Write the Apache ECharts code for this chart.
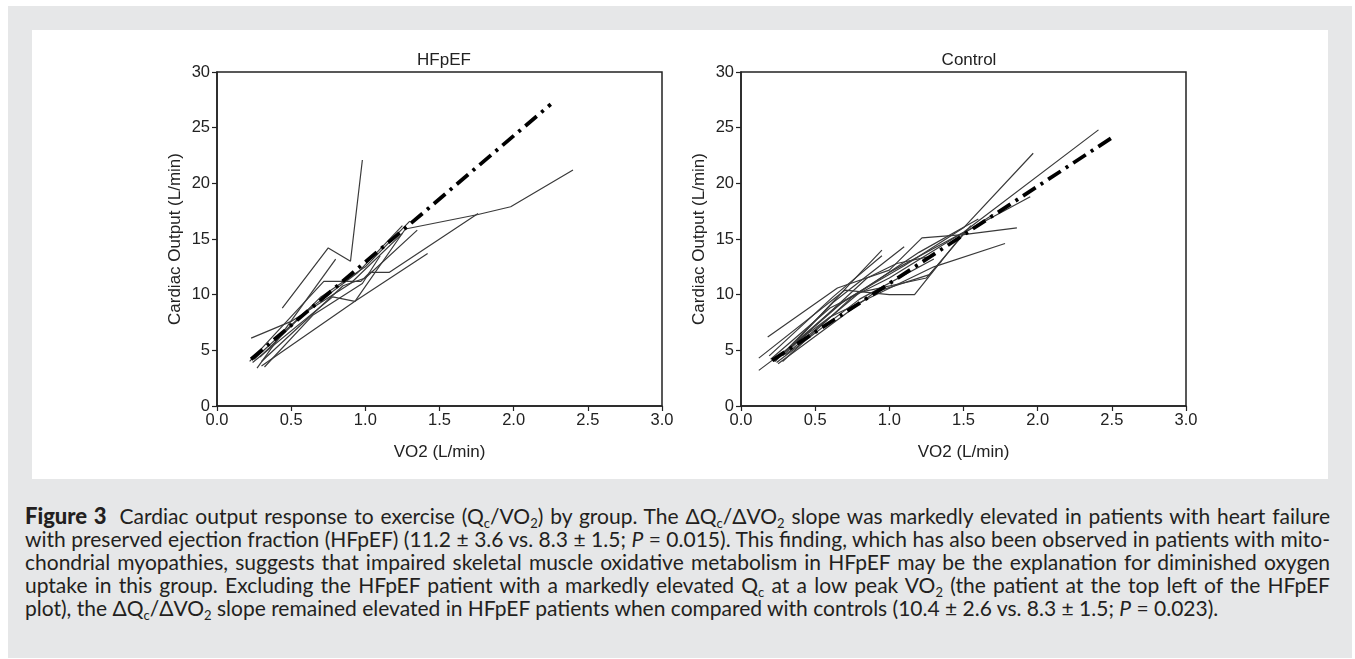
<!DOCTYPE html>
<html>
<head>
<meta charset="utf-8">
<script src="https://cdn.jsdelivr.net/npm/echarts@6/dist/echarts.min.js"></script>
<style>
  body { margin: 0; background: #fff; width: 1355px; height: 659px; position: relative; overflow: hidden; }
  #frame { position: absolute; left: 8px; top: 6px; width: 1344px; height: 652px; background: #e6e7e8; }
  #panel { position: absolute; left: 32px; top: 30px; width: 1296px; height: 449px; background: #fff; }
  #chart { position: absolute; left: 0; top: 0; width: 1355px; height: 480px; }
  #caption { position: absolute; left: 25px; top: 504px; width: 1305px; font-family: Lato, "Open Sans", sans-serif; font-size: 21px; line-height: 23px; color: #231f20; }
  #caption div { white-space: nowrap; text-align: justify; text-align-last: justify; }
  #caption div.last { text-align-last: left; }
  #caption b { font-weight: 900; font-size: 22px; margin-right: 6px; }
  #caption sub { font-size: 13px; line-height: 0; vertical-align: -4px; }
</style>
</head>
<body>
<div id="frame"></div>
<div id="panel"></div>
<div id="chart"></div>
<div id="caption">
  <div><b>Figure 3</b> Cardiac output response to exercise (Q<sub>c</sub>/VO<sub>2</sub>) by group. The ΔQ<sub>c</sub>/ΔVO<sub>2</sub> slope was markedly elevated in patients with heart failure</div>
  <div>with preserved ejection fraction (HFpEF) (11.2 ± 3.6 vs. 8.3 ± 1.5; <i>P</i> = 0.015). This finding, which has also been observed in patients with mito-</div>
  <div>chondrial myopathies, suggests that impaired skeletal muscle oxidative metabolism in HFpEF may be the explanation for diminished oxygen</div>
  <div>uptake in this group. Excluding the HFpEF patient with a markedly elevated Q<sub>c</sub> at a low peak VO<sub>2</sub> (the patient at the top left of the HFpEF</div>
  <div class="last">plot), the ΔQ<sub>c</sub>/ΔVO<sub>2</sub> slope remained elevated in HFpEF patients when compared with controls (10.4 ± 2.6 vs. 8.3 ± 1.5; <i>P</i> = 0.023).</div>
</div>
<script>
// VO2 (L/min), cardiac output (L/min) per patient
var hfpefLines = [
  [[0.44, 8.8], [0.75, 14.2], [0.90, 13.0], [0.98, 22.1]],
  [[0.27, 3.4], [0.80, 13.2]],
  [[0.30, 3.6], [0.93, 9.4], [1.42, 13.7]],
  [[0.24, 3.9], [0.78, 9.8], [0.93, 9.4], [1.27, 15.9], [1.76, 17.2], [1.98, 17.9], [2.40, 21.2]],
  [[0.22, 4.0], [0.72, 11.2], [0.97, 11.2], [1.03, 12.0], [1.16, 12.0], [1.76, 17.3]],
  [[0.30, 4.0], [0.85, 10.8], [1.00, 11.5], [1.35, 15.8]],
  [[0.23, 6.1], [0.50, 7.6], [0.90, 11.0], [1.25, 15.5]],
  [[0.29, 4.4], [0.70, 9.8], [1.00, 12.5], [1.30, 16.6]],
  [[0.25, 4.2], [0.60, 8.5], [0.95, 12.0], [1.25, 16.2]],
  [[0.32, 3.5], [0.65, 8.2], [0.98, 11.0], [1.10, 13.5]]
];
var hfpefFit = [[0.23, 4.2], [2.25, 27.1]];

var controlLines = [
  [[0.22, 4.0], [0.65, 9.0], [1.00, 12.0], [1.50, 15.6], [2.41, 24.8]],
  [[0.25, 4.3], [0.70, 9.5], [1.10, 12.6], [1.50, 16.0], [1.97, 22.7]],
  [[0.20, 4.2], [0.60, 8.8], [1.00, 11.5], [1.45, 15.2], [1.95, 18.8]],
  [[0.18, 6.2], [0.65, 10.6], [1.00, 12.2], [1.22, 15.1], [1.50, 15.4], [1.86, 16.0]],
  [[0.12, 3.2], [0.60, 8.0], [1.30, 12.5], [1.78, 14.6]],
  [[0.12, 4.3], [0.70, 10.4], [1.00, 10.0], [1.17, 10.0], [1.50, 15.5], [1.70, 17.2]],
  [[0.23, 4.0], [0.62, 9.3], [1.10, 14.3]],
  [[0.28, 4.5], [0.85, 11.5], [1.05, 12.8], [1.30, 13.5]],
  [[0.30, 4.6], [0.80, 10.2], [1.25, 11.5], [1.35, 13.0]],
  [[0.25, 3.8], [0.90, 10.2], [1.27, 11.8], [1.55, 16.2]],
  [[0.35, 5.5], [0.75, 11.2], [0.95, 14.0]],
  [[0.28, 4.0], [0.75, 9.8], [1.20, 13.8], [1.60, 16.8]],
  [[0.19, 4.5], [0.62, 9.8], [0.95, 13.5]],
  [[0.24, 3.9], [0.80, 9.6], [1.30, 13.2]]
];
var controlFit = [[0.21, 4.1], [2.50, 24.1]];

var panelTitles = ["HFpEF", "Control"];
var xName = "VO2 (L/min)";
var yName = "Cardiac Output (L/min)";

var chart = echarts.init(document.getElementById("chart"));
var font = "Liberation Sans, Arial, sans-serif";

function makeX(i) {
  return {
    type: "value", gridIndex: i, min: 0, max: 3, interval: 0.5,
    name: xName, nameLocation: "middle", nameGap: 38,
    nameTextStyle: { fontFamily: font, fontSize: 17, color: "#222" },
    axisLine: { lineStyle: { color: "#222", width: 1.5 } },
    axisTick: { show: true, inside: false, length: 5, lineStyle: { color: "#222", width: 1.2 } },
    axisLabel: { fontFamily: font, fontSize: 16.5, color: "#222", margin: 6,
      formatter: function (v) { return v.toFixed(1); } },
    splitLine: { show: false }
  };
}
function makeY(i) {
  return {
    type: "value", gridIndex: i, min: 0, max: 30, interval: 5,
    name: yName, nameLocation: "middle", nameGap: 33, nameRotate: 90,
    nameTextStyle: { fontFamily: font, fontSize: 17, color: "#222" },
    axisLine: { show: true, lineStyle: { color: "#222", width: 1.5 } },
    axisTick: { show: true, inside: false, length: 5, lineStyle: { color: "#222", width: 1.2 } },
    axisLabel: { fontFamily: font, fontSize: 16.5, color: "#222", margin: 7 },
    splitLine: { show: false }
  };
}

var series = [];
[hfpefLines, controlLines].forEach(function (lines, g) {
  lines.forEach(function (pts) {
    series.push({
      type: "line", xAxisIndex: g, yAxisIndex: g, data: pts,
      symbol: "none", silent: true, animation: false,
      lineStyle: { color: "#3a3a3a", width: 1.2 }
    });
  });
});
[hfpefFit, controlFit].forEach(function (pts, g) {
  series.push({
    type: "line", xAxisIndex: g, yAxisIndex: g, data: pts, z: 5,
    symbol: "none", silent: true, animation: false,
    lineStyle: { color: "#000", width: 3.8, type: [15, 6, 3, 6], cap: "butt" }
  });
});

chart.setOption({
  animation: false,
  title: panelTitles.map(function (t, i) {
    return { text: t, left: i === 0 ? 439 : 964, top: 47, textAlign: "center",
      textStyle: { fontFamily: font, fontSize: 17, fontWeight: "normal", color: "#222" } };
  }),
  grid: [
    { left: 217, top: 72, width: 445, height: 334, show: true, borderColor: "#222", borderWidth: 1.5, backgroundColor: "transparent" },
    { left: 741, top: 72, width: 445, height: 334, show: true, borderColor: "#222", borderWidth: 1.5, backgroundColor: "transparent" }
  ],
  xAxis: [makeX(0), makeX(1)],
  yAxis: [makeY(0), makeY(1)],
  series: series
});
</script>
</body>
</html>
